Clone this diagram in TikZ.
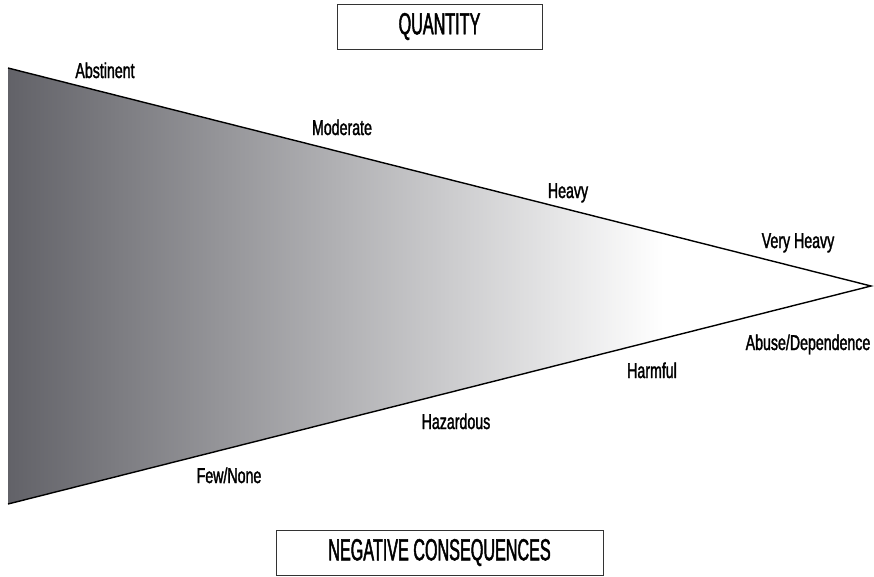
\documentclass[tikz,border=0pt]{standalone}
\usepackage{fontspec}
\setmainfont{Liberation Sans}[FakeStretch=0.66, FakeBold=1.5]
\newfontfamily\capsfont{Liberation Sans}[FakeStretch=0.53, FakeBold=1.5]
\usepackage{xcolor}
\usepackage{tikz}
\usetikzlibrary{positioning}

\definecolor{wedgedark}{RGB}{98,98,104}
\pgfdeclarehorizontalshading{wedgeshade}{100bp}{%
  color(0bp)=(wedgedark); color(25bp)=(wedgedark);
  color(63bp)=(white); color(100bp)=(white)}

\begin{document}
\begin{tikzpicture}[
  x=1pt, y=-1pt,
  axisbox/.style={draw=black!80, line width=0.9pt, inner sep=0pt,
                  font=\capsfont\fontsize{30.5}{33}\selectfont},
  lvl/.style={inner sep=0pt, anchor=base, font=\fontsize{21.5}{24}\selectfont},
  edge/.style={line width=1.4pt, line join=miter},
]
\useasboundingbox (0,0) rectangle (874,576);

\coordinate (tl) at (8,68);
\coordinate (apex) at (871,286);
\coordinate (bl) at (8,504);

\shade[shading=wedgeshade] (tl) -- (apex) -- (bl) -- cycle;
\draw[edge] (tl) -- (apex) -- (bl);

\node[axisbox, minimum width=205pt, minimum height=45pt] (qty) at (439.5,26.5) {QUANTITY};
\node[axisbox, minimum width=327pt, minimum height=45pt] (neg) at (439.5,552.5) {NEGATIVE CONSEQUENCES};

% quantity levels
\node[lvl] (abst) at (105,78) {Abstinent};
\node[lvl] (mod) at (342,135) {Moderate};
\node[lvl] (heavy) at (568,198) {Heavy};
\node[lvl] (vheavy) at (798,248) {Very Heavy};

% consequence levels
\node[lvl] (abuse) at (808,350) {Abuse/Dependence};
\node[lvl] (harm) at (652,378) {Harmful};
\node[lvl] (haz) at (456,429) {Hazardous};
\node[lvl] (few) at (229,483) {Few/None};

\end{tikzpicture}
\end{document}
